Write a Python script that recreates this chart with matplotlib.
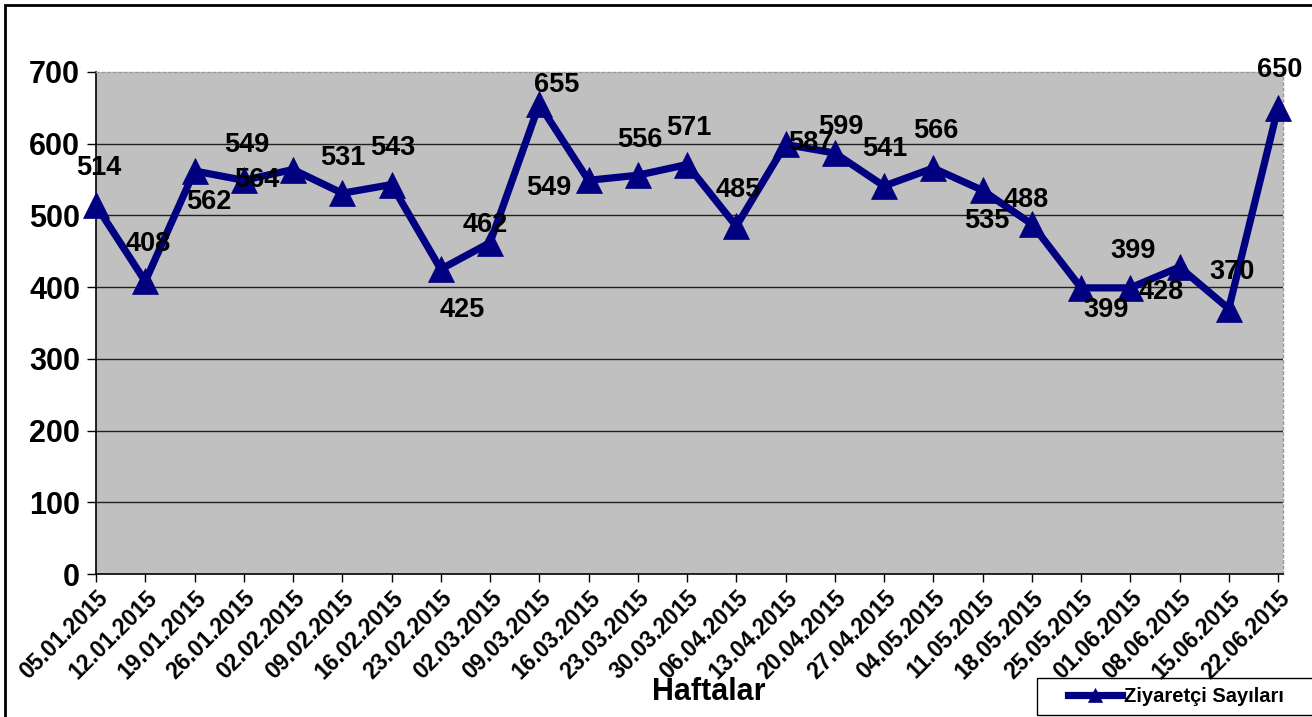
import matplotlib
matplotlib.use("Agg")
import matplotlib.pyplot as plt
from matplotlib.patches import Rectangle
import matplotlib.transforms as mtransforms

weeks = ["05.01.2015", "12.01.2015", "19.01.2015", "26.01.2015", "02.02.2015",
         "09.02.2015", "16.02.2015", "23.02.2015", "02.03.2015", "09.03.2015",
         "16.03.2015", "23.03.2015", "30.03.2015", "06.04.2015", "13.04.2015",
         "20.04.2015", "27.04.2015", "04.05.2015", "11.05.2015", "18.05.2015",
         "25.05.2015", "01.06.2015", "08.06.2015", "15.06.2015", "22.06.2015"]
visitors = [514, 408, 562, 549, 564, 531, 543, 425, 462, 655, 549, 556, 571,
            485, 599, 587, 541, 566, 535, 488, 399, 399, 428, 370, 650]
y_ticks = [0, 100, 200, 300, 400, 500, 600, 700]
series_name = "Ziyaretçi Sayıları"
x_title = "Haftalar"

# label placement (pixel offsets of label centre from the point)
label_offsets = [(3, 40), (3, 40), (14, -28), (3, 38), (-36, -7), (1, 38), (1, 40),
                 (21, -38), (-5, 21), (17, 22), (-40, -5), (2, 38), (2, 40), (2, 39),
                 (55, 20), (-24, 13), (1, 40), (3, 40), (4, -28), (-5, 27), (25, -19),
                 (3, 40), (-18, -22), (3, 40), (2, 41)]

plt.rcParams["font.family"] = ["Liberation Sans", "DejaVu Sans"]
plt.rcParams["font.weight"] = "bold"

W, H = 1312, 717
fig = plt.figure(figsize=(W / 100, H / 100), dpi=100)
fig.patch.set_facecolor("white")

left, right, top, bottom = 96, 1283, 72, 574
ax = fig.add_axes([left / W, 1 - bottom / H, (right - left) / W, (bottom - top) / H])
ax.set_facecolor("#C0C0C0")

x = list(range(len(weeks)))
ax.set_xlim(0, (right - left) / 49.25)
ax.set_ylim(0, 700)

for yv in y_ticks[1:-1]:
    ax.axhline(yv, color="#202020", lw=1.0, zorder=1)

line, = ax.plot(x, visitors, color="#000080", lw=5.2, marker="^", markersize=19,
                markeredgewidth=0.5, zorder=3, label=series_name, clip_on=False)

for i, (v, (dx, dy)) in enumerate(zip(visitors, label_offsets)):
    ax.annotate(str(v), xy=(i, v), xytext=(dx, dy - 10), textcoords="offset pixels",
                ha="center", va="baseline", fontsize=19.5, fontweight="bold",
                color="black", zorder=5, annotation_clip=False)

ax.set_yticks(y_ticks)
ax.set_yticklabels([str(t) for t in y_ticks], fontsize=22, fontweight="bold")
ax.set_xticks(x)
ax.set_xticklabels(weeks, fontsize=16.5, fontweight="bold", rotation=45,
                   ha="right", va="top", rotation_mode="anchor")
offset = mtransforms.ScaledTranslation(10 / 100, 0, fig.dpi_scale_trans)
for lab in ax.get_xticklabels():
    lab.set_transform(lab.get_transform() + offset)

ax.tick_params(axis="y", length=6.5, width=1, pad=5, direction="out", color="black")
ax.tick_params(axis="x", length=6, width=1, pad=3, direction="out", color="black")

for s in ("left", "bottom"):
    ax.spines[s].set_color("black")
    ax.spines[s].set_linewidth(1.2)
for s in ("top", "right"):
    ax.spines[s].set_color("#9a9a9a")
    ax.spines[s].set_linestyle((0, (2, 2)))
    ax.spines[s].set_linewidth(1.0)

fig.text(709 / W, 1 - 700 / H, x_title, fontsize=22, fontweight="bold",
         ha="center", va="baseline")

# outer chart border
fig.patches.append(Rectangle((5 / W, -0.1), 1.2, 1 - 5 / H + 0.1, fill=False,
                             edgecolor="black", lw=2, transform=fig.transFigure,
                             figure=fig))
# legend box
fig.patches.append(Rectangle((1037 / W, 1 - 715 / H), 0.3, 37 / H, fill=False,
                             edgecolor="black", lw=1, transform=fig.transFigure,
                             figure=fig))
leg = ax.legend(handles=[line], loc="center left",
                bbox_to_anchor=(1068 / W, 1 - 697 / H), bbox_transform=fig.transFigure,
                frameon=False, handlelength=2.7, handletextpad=0.1,
                borderpad=0, borderaxespad=0, markerscale=0.5,
                prop={"weight": "bold", "size": 14.5})

fig.savefig("out.png", dpi=100)
